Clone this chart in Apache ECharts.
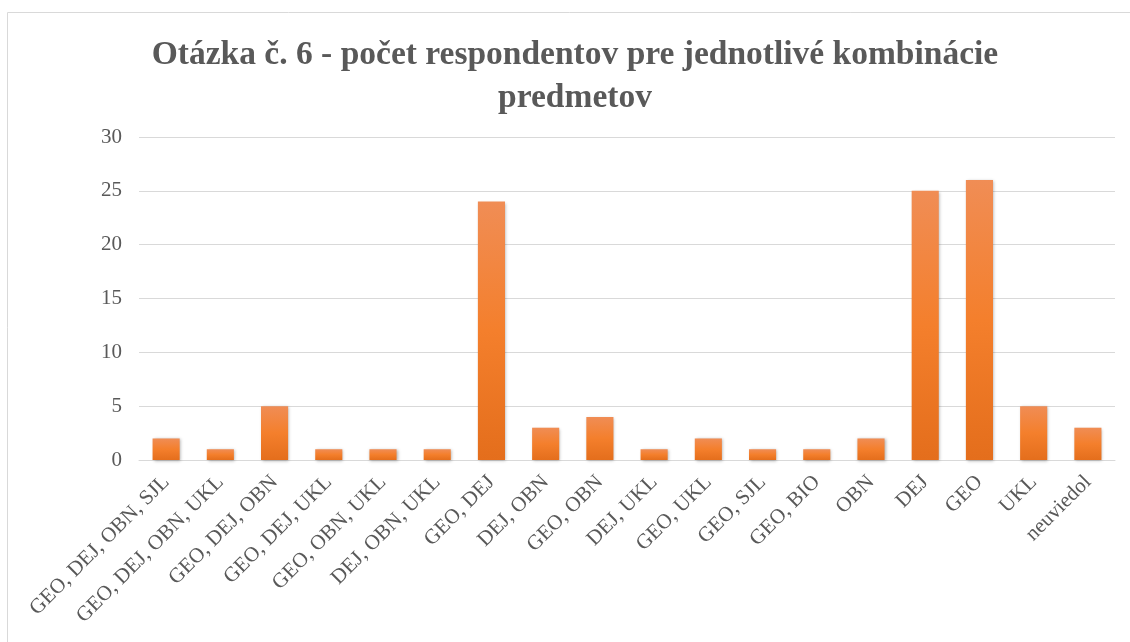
<!DOCTYPE html>
<html>
<head>
<meta charset="utf-8">
<style>
  html, body { margin: 0; padding: 0; background: #fff; }
  #chart { width: 1130px; height: 642px; }
</style>
<script src="https://cdn.jsdelivr.net/npm/echarts@6/dist/echarts.min.js"></script>
</head>
<body>
<div id="chart"></div>
<script>
// data
const categories = [
  'GEO, DEJ, OBN, SJL', 'GEO, DEJ, OBN, UKL', 'GEO, DEJ, OBN', 'GEO, DEJ, UKL',
  'GEO, OBN, UKL', 'DEJ, OBN, UKL', 'GEO, DEJ', 'DEJ, OBN', 'GEO, OBN',
  'DEJ, UKL', 'GEO, UKL', 'GEO, SJL', 'GEO, BIO', 'OBN', 'DEJ', 'GEO', 'UKL', 'neuviedol'
]
const counts = [2, 1, 5, 1, 1, 1, 24, 3, 4, 1, 2, 1, 1, 2, 25, 26, 5, 3]
const yTicks = [0, 5, 10, 15, 20, 25, 30]

const textColor = '#595959'
const serif = '"Liberation Serif", "DejaVu Serif", serif'

const chart = echarts.init(document.getElementById('chart'))
chart.setOption({
  animation: false,
  graphic: [{
    type: 'rect',
    shape: { x: 7.5, y: 12.5, width: 1140, height: 700 },
    style: { fill: 'none', stroke: '#D9D9D9', lineWidth: 1 },
    silent: true
  }],
  title: {
    text: 'Otázka č. 6 - počet respondentov pre jednotlivé kombinácie\npredmetov',
    left: 575 - 5,
    textAlign: 'center',
    top: 29,
    textStyle: {
      fontFamily: serif,
      fontSize: 33.5,
      fontWeight: 'bold',
      color: textColor,
      lineHeight: 43
    }
  },
  grid: {
    left: 139,
    right: 15,
    top: 137,
    bottom: 182,
    containLabel: false
  },
  xAxis: {
    type: 'category',
    data: categories,
    axisLine: { lineStyle: { color: '#D9D9D9', width: 1 } },
    axisTick: { show: false },
    axisLabel: {
      rotate: 45,
      interval: 0,
      margin: 19,
      fontFamily: serif,
      fontSize: 21,
      color: textColor
    }
  },
  yAxis: {
    type: 'value',
    min: yTicks[0],
    max: yTicks[yTicks.length - 1],
    interval: yTicks[1] - yTicks[0],
    axisLine: { show: false },
    axisTick: { show: false },
    splitLine: { lineStyle: { color: '#D9D9D9', width: 1 } },
    axisLabel: {
      margin: 17,
      fontFamily: serif,
      fontSize: 21,
      color: textColor
    }
  },
  series: [{
    type: 'bar',
    data: counts,
    barWidth: '50%',
    itemStyle: {
      color: new echarts.graphic.LinearGradient(0, 0, 0, 1, [
        { offset: 0, color: '#F08D55' },
        { offset: 0.5, color: '#F47F2C' },
        { offset: 1, color: '#E46E1C' }
      ]),
      shadowColor: 'rgba(0,0,0,0.3)',
      shadowBlur: 3,
      shadowOffsetX: 1,
      shadowOffsetY: 1
    }
  }]
})
</script>
</body>
</html>
